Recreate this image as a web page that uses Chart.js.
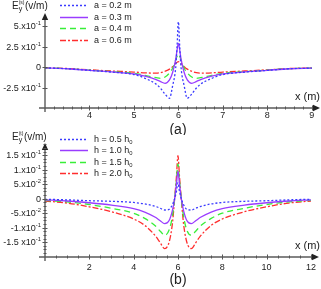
<!DOCTYPE html>
<html><head><meta charset="utf-8">
<script src="https://cdn.jsdelivr.net/npm/chart.js@4"></script>
<style>
html,body{margin:0;padding:0;background:#fff;width:321px;height:289px;overflow:hidden}
canvas{position:absolute;left:0}
#c1{top:0}
#c2{top:118px}
</style></head><body>
<canvas id="c1" width="321" height="135"></canvas>
<canvas id="c2" width="321" height="171"></canvas>
<script>
// ---------- data: panel (a) ----------
const topX = [3,3.5,4,4.5,5,5.25,5.5,5.6,5.7,5.8,5.87,5.94,5.97,6,6.03,6.06,6.13,6.2,6.3,6.4,6.5,6.75,7,7.5,8,8.5,9];
const topA02 = [-0.005,-0.015,-0.035,-0.055,-0.085,-0.13,-0.2,-0.25,-0.32,-0.37,-0.22,0.0,0.25,0.55,0.25,0.0,-0.22,-0.37,-0.32,-0.25,-0.2,-0.13,-0.085,-0.055,-0.035,-0.015,-0.008];
const topA03 = [-0.005,-0.015,-0.034,-0.053,-0.078,-0.105,-0.145,-0.17,-0.19,-0.15,-0.06,0.1,0.21,0.29,0.21,0.1,-0.06,-0.15,-0.19,-0.17,-0.145,-0.105,-0.078,-0.053,-0.034,-0.015,-0.008];
const topA04 = [-0.005,-0.014,-0.032,-0.05,-0.07,-0.095,-0.122,-0.13,-0.115,-0.065,-0.01,0.09,0.135,0.16,0.135,0.09,-0.01,-0.065,-0.115,-0.13,-0.122,-0.095,-0.07,-0.05,-0.032,-0.014,-0.007];
const topA06 = [-0.004,-0.012,-0.028,-0.042,-0.055,-0.064,-0.068,-0.062,-0.045,-0.02,0.01,0.05,0.063,0.07,0.063,0.05,0.01,-0.02,-0.045,-0.062,-0.068,-0.064,-0.055,-0.042,-0.028,-0.012,-0.006];
const topLabels = ['a = 0.2 m','a = 0.3 m','a = 0.4 m','a = 0.6 m'];
const topXTicks = [4,5,6,7,8,9];
const topYTicks = [0.5,0.25,0,-0.25];
const topYTickText = [['5.x10','-1'],['2.5 x10','-1'],['0',''],['-2.5 x10','-1']];

// ---------- data: panel (b) ----------
const botX = [0,1,2,3,4,4.5,5,5.2,5.4,5.6,5.75,5.85,5.93,6,6.07,6.15,6.25,6.4,6.6,6.8,7,7.5,8,9,10,11,12];
const botH05 = [-0.002,-0.004,-0.007,-0.009,-0.013,-0.018,-0.027,-0.033,-0.039,-0.037,-0.02,0.0,0.025,0.055,0.025,0.0,-0.02,-0.037,-0.039,-0.033,-0.027,-0.018,-0.013,-0.009,-0.007,-0.004,-0.002];
const botH10 = [-0.004,-0.008,-0.014,-0.022,-0.034,-0.046,-0.065,-0.076,-0.086,-0.075,-0.04,0.0,0.05,0.095,0.05,0.0,-0.04,-0.075,-0.086,-0.076,-0.065,-0.046,-0.034,-0.022,-0.014,-0.008,-0.004];
const botH15 = [-0.006,-0.011,-0.02,-0.033,-0.05,-0.068,-0.095,-0.112,-0.126,-0.108,-0.06,0.0,0.06,0.12,0.06,0.0,-0.06,-0.108,-0.126,-0.112,-0.095,-0.068,-0.05,-0.033,-0.02,-0.011,-0.006];
const botH20 = [-0.008,-0.015,-0.028,-0.045,-0.07,-0.092,-0.13,-0.152,-0.172,-0.15,-0.085,0.0,0.075,0.148,0.075,0.0,-0.085,-0.15,-0.172,-0.152,-0.13,-0.092,-0.07,-0.045,-0.028,-0.015,-0.008];
const botLabels = [['h = 0.5 h','0'],['h = 1.0 h','0'],['h = 1.5 h','0'],['h = 2.0 h','0']];
const botXTicks = [2,4,6,8,10,12];
const botYTicks = [0.15,0.1,0.05,0,-0.05,-0.1,-0.15];
const botYTickText = [['1.5 x10','-1'],['1.x10','-1'],['5.x10','-2'],['0',''],['-5.x10','-2'],['-1.x10','-1'],['-1.5 x10','-1']];

const F = '"Liberation Sans", Arial, sans-serif';
const COL = {blue:'#3b3bff', purple:'#9a3cff', green:'#38ee38', red:'#ff2e2e'};
const DASH = {dot:[2,2], solid:[], dash:[6,4], dashdot:[6,2,2,2]};

function mkDs(label, xs, ys, color, dash){
  return {label, data: xs.map((x,i)=>({x, y: ys[i]})), borderColor: color, borderWidth: 1.3,
    borderDash: dash, pointRadius: 0, fill: false, cubicInterpolationMode: 'monotone'};
}

function supText(ctx, x, y, base, sup, size, align, subMode){
  ctx.font = size+'px '+F; const wb = ctx.measureText(base).width;
  const ss = size*0.65;
  ctx.font = ss+'px '+F; const ws = sup ? ctx.measureText(sup).width : 0;
  const sx = align==='right' ? x - wb - ws : x;
  ctx.textAlign = 'left';
  ctx.font = size+'px '+F; ctx.fillText(base, sx, y);
  if (sup){ ctx.font = ss+'px '+F; ctx.fillText(sup, sx+wb, subMode ? y + size*0.3 : y - size*0.4); }
}

const deco = {
  id: 'deco',
  afterDraw(chart, args, o){
    const ctx = chart.ctx, ca = chart.chartArea, xs = chart.scales.x, ys = chart.scales.y;
    ctx.save();
    ctx.setLineDash([]);
    const y0 = ca.bottom, x0 = ca.left;
    ctx.strokeStyle = '#5a5a5a'; ctx.lineWidth = 1.4;
    ctx.beginPath(); ctx.moveTo(x0-6, y0); ctx.lineTo(ca.right-3, y0); ctx.stroke();
    ctx.beginPath(); ctx.moveTo(x0, y0+4); ctx.lineTo(x0, ca.top+5); ctx.stroke();
    ctx.fillStyle = '#222';
    ctx.beginPath(); ctx.moveTo(ca.right+2, y0); ctx.lineTo(ca.right-5, y0-3.2); ctx.lineTo(ca.right-5, y0+3.2); ctx.closePath(); ctx.fill();
    ctx.beginPath(); ctx.moveTo(x0, ca.top); ctx.lineTo(x0-3.2, ca.top+7); ctx.lineTo(x0+3.2, ca.top+7); ctx.closePath(); ctx.fill();
    // x ticks
    ctx.strokeStyle = '#555'; ctx.lineWidth = 1;
    for (let v = o.xMinorStart; v <= o.xMinorEnd + 1e-9; v += o.xMinor){
      const px = Math.round(xs.getPixelForValue(v)) + 0.5;
      const major = Math.abs(v - Math.round(v / o.xMajor) * o.xMajor) < 1e-6;
      ctx.beginPath(); ctx.moveTo(px, y0 - (major?2.5:1.5)); ctx.lineTo(px, y0 + (major?2.5:1.5)); ctx.stroke();
    }
    // y minor ticks
    if (o.yMinor){
      for (let v = o.yMinorStart; v <= o.yMinorEnd + 1e-9; v += o.yMinor){
        const py = Math.round(ys.getPixelForValue(v)) + 0.5;
        ctx.beginPath(); ctx.moveTo(x0-1.5, py); ctx.lineTo(x0+1.5, py); ctx.stroke();
      }
    }
    // y major ticks + labels
    ctx.fillStyle = '#222'; ctx.textBaseline = 'middle';
    o.yTicks.forEach((v,i)=>{
      const py = Math.round(ys.getPixelForValue(v)) + 0.5;
      ctx.beginPath(); ctx.moveTo(x0-2.5, py); ctx.lineTo(x0+2.5, py); ctx.stroke();
      const t = o.yTickText[i];
      supText(ctx, x0-4, py, t[0], t[1], 9, 'right');
    });
    // y axis title E_y^(s)(v/m)
    ctx.textBaseline = 'alphabetic';
    ctx.font = '10px '+F; ctx.textAlign = 'left';
    let tx = 12; const tb = o.yTitleY;
    ctx.fillText('E', tx, tb); tx += ctx.measureText('E').width;
    ctx.font = '7px '+F; ctx.fillText('y', tx, tb+2);
    ctx.font = '5px '+F; ctx.fillText(o.yTitleSup, tx, tb-5);
    tx += ctx.measureText(o.yTitleSup).width + 0.5;
    ctx.font = '10px '+F; ctx.fillText('(v/m)', tx, tb);
    // x axis title
    ctx.font = '11px '+F; ctx.textAlign = 'right';
    ctx.fillText('x (m)', 320, o.xTitleY);
    // panel letter
    ctx.font = '14px '+F; ctx.textAlign = 'center'; ctx.textBaseline = 'middle';
    ctx.fillText(o.panel, 178, o.panelY);
    // legend
    ctx.textBaseline = 'middle';
    chart.data.datasets.forEach((ds,i)=>{
      const ly = Math.round(o.legendY + i*o.legendStep) + 0.5;
      ctx.strokeStyle = ds.borderColor; ctx.lineWidth = 1.5; ctx.setLineDash(ds.borderDash);
      ctx.beginPath(); ctx.moveTo(60, ly); ctx.lineTo(88, ly); ctx.stroke();
      ctx.setLineDash([]);
      ctx.fillStyle = '#222';
      const lt = o.legendText[i];
      if (Array.isArray(lt)) supText(ctx, 94, ly, lt[0], lt[1], 9, 'left', true);
      else { ctx.font = '9px '+F; ctx.textAlign='left'; ctx.fillText(lt, 94, ly); }
    });
    ctx.restore();
  }
};

function makeChart(id, datasets, xMin, xMax, yMin, yMax, xTicks, xAxisH, xPad, padTop, decoOpts){
  return new Chart(document.getElementById(id), {
    type: 'line',
    data: { datasets },
    plugins: [deco],
    options: {
      responsive: false, animation: false, devicePixelRatio: 1,
      layout: { padding: { top: padTop, right: 3, left: 0, bottom: 0 } },
      plugins: { legend: { display: false }, tooltip: { enabled: false }, deco: decoOpts },
      scales: {
        x: { type: 'linear', min: xMin, max: xMax,
             afterBuildTicks: s => { s.ticks = xTicks.map(v => ({ value: v })); },
             afterFit: s => { s.height = xAxisH; },
             grid: { display: false, drawTicks: false, tickLength: 0 }, border: { display: false },
             ticks: { padding: xPad, color: '#222', font: { family: F, size: 9 }, maxRotation: 0, autoSkip: false, callback: v => String(v) } },
        y: { type: 'linear', min: yMin, max: yMax,
             afterFit: s => { s.width = 45; },
             grid: { display: false, drawTicks: false }, border: { display: false },
             ticks: { display: false } }
      }
    }
  });
}

makeChart('c1', [
  mkDs(topLabels[0], topX, topA02, COL.blue, DASH.dot),
  mkDs(topLabels[1], topX, topA03, COL.purple, DASH.solid),
  mkDs(topLabels[2], topX, topA04, COL.green, DASH.dash),
  mkDs(topLabels[3], topX, topA06, COL.red, DASH.dashdot)
], 3, 9.14, -0.487, 0.655, topXTicks, 27, 2, 13, {
  xMinor: 0.2, xMajor: 1, xMinorStart: 3.2, xMinorEnd: 9,
  yTicks: topYTicks, yTickText: topYTickText,
  yTitleY: 9, yTitleSup: '(s)', xTitleY: 100, panel: '(a)', panelY: 130,
  legendY: 5, legendStep: 11.7, legendText: topLabels
});

makeChart('c2', [
  mkDs(botLabels[0].join(''), botX, botH05, COL.blue, DASH.dot),
  mkDs(botLabels[1].join(''), botX, botH10, COL.purple, DASH.solid),
  mkDs(botLabels[2].join(''), botX, botH15, COL.green, DASH.dash),
  mkDs(botLabels[3].join(''), botX, botH20, COL.red, DASH.dashdot)
], 0, 12.27, -0.201, 0.192, botXTicks, 32, 5, 25, {
  xMinor: 0.5, xMajor: 2, xMinorStart: 0.5, xMinorEnd: 12,
  yMinor: 0.0125, yMinorStart: -0.1875, yMinorEnd: 0.1875,
  yTicks: botYTicks, yTickText: botYTickText,
  yTitleY: 22, yTitleSup: '(t)', xTitleY: 131, panel: '(b)', panelY: 162,
  legendY: 20.5, legendStep: 11.6, legendText: botLabels
});
</script>
</body></html>
